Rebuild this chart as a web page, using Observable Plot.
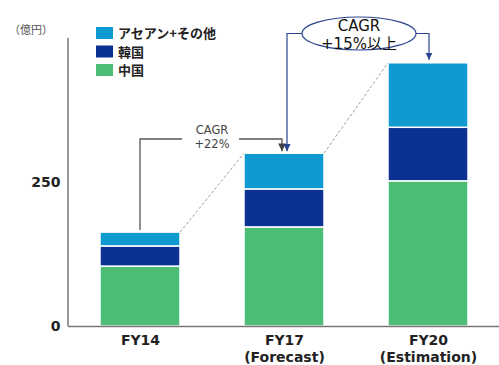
<!DOCTYPE html>
<html><head><meta charset="utf-8">
<script src="https://cdn.jsdelivr.net/npm/d3@7"></script>
<script src="https://cdn.jsdelivr.net/npm/@observablehq/plot@0.6"></script>
<style>body{margin:0;background:#fff}#chart{position:relative;width:499px;height:365px}</style>
</head><body><div id="chart"></div>
<script>
const years = ["FY14", "FY17", "FY20"];
const yearLabels = ["FY14", "FY17\n(Forecast)", "FY20\n(Estimation)"];
const series = ["中国", "韓国", "アセアン+その他"];
const legendOrder = ["アセアン+その他", "韓国", "中国"];
const colors = ["#4dbd76", "#0b3192", "#109bd0"];
const china = [104, 172, 252];
const korea = [35, 66, 93];
const asean = [24, 62, 112];
const yTicks = [0, 250];
const yMax = 500;
const unitLabel = "（億円）";
const cagr1 = ["CAGR", "+22%"];
const cagr2 = ["CAGR", "+15%以上"];

const seriesValues = [china, korea, asean];
const rows = [];
years.forEach((yr, i) => series.forEach((s, j) => rows.push({year: yr, series: s, value: seriesValues[j][i]})));
const totals = years.map((_, i) => china[i] + korea[i] + asean[i]);

const font = "'DejaVu Sans','Noto Sans CJK JP',sans-serif";
const plot = Plot.plot({
  width: 499, height: 365,
  marginLeft: 68, marginRight: 0, marginTop: 38, marginBottom: 39,
  style: {fontFamily: font, background: "white", color: "#222"},
  x: {domain: years, paddingInner: 0.446, paddingOuter: 0.2145, label: null},
  y: {domain: [0, yMax], label: null},
  color: {domain: series, range: colors},
  marks: [
    Plot.barY(rows, {x: "year", y: "value", fill: "series", stroke: "white", strokeWidth: 1.5}),
    Plot.axisY({ticks: yTicks, tickSize: 0, tickPadding: 8, fontSize: 14, fontWeight: "bold", fill: "#222", label: null}),
    Plot.axisX({tickSize: 0, tickPadding: 7, fontSize: 14, fontWeight: "bold", fill: "#222", lineHeight: 1.2, label: null,
      tickFormat: d => yearLabels[years.indexOf(d)]}),
    Plot.ruleY([0], {stroke: "#777", strokeWidth: 1.5})
  ]
});
document.getElementById("chart").appendChild(plot);

const xs = plot.scale("x"), ys = plot.scale("y"), cs = plot.scale("color");
const bw = xs.bandwidth;
const left = i => xs.apply(years[i]);
const cx = i => left(i) + bw / 2;
const svg = d3.select(plot);

const defs = svg.append("defs");
function marker(id, color) {
  defs.append("marker").attr("id", id).attr("viewBox", "0 0 10 10").attr("refX", 10).attr("refY", 5)
    .attr("markerWidth", 6).attr("markerHeight", 6).attr("orient", "auto")
    .append("path").attr("d", "M0,0L10,5L0,10Z").attr("fill", color);
}
marker("ag", "#444"); marker("ab", "#2a4590");

// y axis line
svg.append("line").attr("x1", 68).attr("x2", 68).attr("y1", ys.apply(yMax)).attr("y2", ys.apply(0))
  .attr("stroke", "#777").attr("stroke-width", 1.5);

// dashed connectors
for (let i = 0; i < years.length - 1; i++) {
  svg.append("line").attr("x1", left(i) + bw).attr("y1", ys.apply(totals[i]))
    .attr("x2", left(i + 1)).attr("y2", ys.apply(totals[i + 1]))
    .attr("stroke", "#888").attr("stroke-width", 0.8).attr("stroke-dasharray", "3,2");
}

// CAGR +22% bracket
const yb = 139;
const mid1 = (cx(0) + cx(1)) / 2;
const g = svg.append("g").attr("fill", "none").attr("stroke", "#555").attr("stroke-width", 1.3);
g.append("path").attr("d", `M${cx(0)},${ys.apply(totals[0]) - 2}V${yb}H${mid1 - 30}`);
g.append("path").attr("d", `M${mid1 + 27},${yb}H${cx(1) - 2}V${ys.apply(totals[1]) - 2}`).attr("marker-end", "url(#ag)");
cagr1.forEach((s, k) => svg.append("text").attr("text-anchor", "middle").attr("font-family", font)
  .attr("font-size", 11.5).attr("fill", "#444").attr("x", mid1).attr("y", 134 + k * 13.5).text(s));

// CAGR +15% ellipse bracket
const mid2 = (cx(1) + cx(2)) / 2 + 3;
const ey = 33.5, rx = 57, ry = 16.5;
const b = svg.append("g").attr("fill", "none").attr("stroke", "#2a4590").attr("stroke-width", 1.2);
b.append("ellipse").attr("cx", mid2).attr("cy", ey).attr("rx", rx).attr("ry", ry).attr("fill", "white");
b.append("path").attr("d", `M${mid2 - rx},${ey}H${cx(1) + 3}V${ys.apply(totals[1]) - 2}`).attr("marker-end", "url(#ab)");
b.append("path").attr("d", `M${mid2 + rx},${ey}H${cx(2) + 1}V${ys.apply(totals[2]) - 3}`).attr("marker-end", "url(#ab)");
cagr2.forEach((s, k) => svg.append("text").attr("text-anchor", "middle").attr("font-family", font)
  .attr("font-size", 15).attr("fill", "#111").attr("x", mid2).attr("y", 30.5 + k * 18).text(s));

// unit label
svg.append("text").attr("text-anchor", "start").attr("x", 9).attr("y", 34).attr("font-family", "'Noto Sans CJK JP',sans-serif")
  .attr("font-size", 11).attr("fill", "#555").text(unitLabel);

// legend
legendOrder.forEach((s, k) => {
  const yy = 27 + k * 18.5;
  svg.append("rect").attr("x", 96).attr("y", yy).attr("width", 17).attr("height", 12).attr("fill", cs.apply(s));
  svg.append("text").attr("text-anchor", "start").attr("x", 118).attr("y", yy + 11).attr("font-family", "'Noto Sans CJK JP',sans-serif")
    .attr("font-weight", "bold").attr("font-size", 13).attr("fill", "#222").text(s);
});
</script></body></html>
